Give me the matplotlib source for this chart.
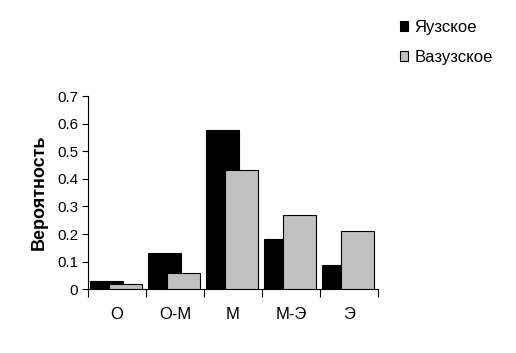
import matplotlib
matplotlib.use("Agg")
import matplotlib.pyplot as plt
import numpy as np
from matplotlib.patches import Patch

plt.rcParams['font.family'] = ['Liberation Sans', 'DejaVu Sans']

categories = ["О", "О-М", "М", "М-Э", "Э"]
yauzskoe = [0.030, 0.131, 0.577, 0.182, 0.088]
vazuzskoe = [0.018, 0.059, 0.432, 0.268, 0.210]
series_names = ["Яузское", "Вазузское"]
yticks = [0, 0.1, 0.2, 0.3, 0.4, 0.5, 0.6, 0.7]

fig = plt.figure(figsize=(5.16, 3.53), dpi=100)
ax = fig.add_axes([0.1705, 0.1805, 0.5621, 0.5475])

x = np.arange(len(categories))
w = 0.57
ax.bar(x + 0.03, yauzskoe, width=w, align='edge', color='black', edgecolor='black', linewidth=0.8, zorder=2)
ax.bar(x + 0.36, vazuzskoe, width=w, align='edge', color='#c0c0c0', edgecolor='black', linewidth=0.8, zorder=3)

ax.set_xlim(0, len(categories))
ax.set_ylim(0, 0.7)
ax.set_yticks(yticks)
ax.set_yticklabels([f"{v:g}" for v in yticks], fontsize=11)
ax.set_xticks(np.arange(len(categories) + 1))
ax.set_xticklabels([])
ax.set_xticks(x + 0.5, minor=True)
ax.set_xticklabels(categories, minor=True, fontsize=12)
ax.tick_params(axis='x', which='major', length=6, direction='out', width=0.8)
ax.tick_params(axis='x', which='minor', length=0, pad=13)
ax.tick_params(axis='y', length=4, direction='out', width=0.8, pad=3)
for s in ['top', 'right']:
    ax.spines[s].set_visible(False)
for s in ['left', 'bottom']:
    ax.spines[s].set_linewidth(0.8)

ax.set_ylabel("Вероятность", fontsize=13, fontweight='bold', labelpad=7)

handles = [Patch(facecolor='black', edgecolor='black', linewidth=0.8),
           Patch(facecolor='#c0c0c0', edgecolor='black', linewidth=0.8)]
fig.legend(handles, series_names, loc='upper left', bbox_to_anchor=(0.775, 0.944),
           frameon=False, fontsize=12, handlelength=0.5, handleheight=0.5,
           handletextpad=0.36, labelspacing=0.92, borderpad=0, borderaxespad=0)

fig.savefig("out.png", dpi=100)
